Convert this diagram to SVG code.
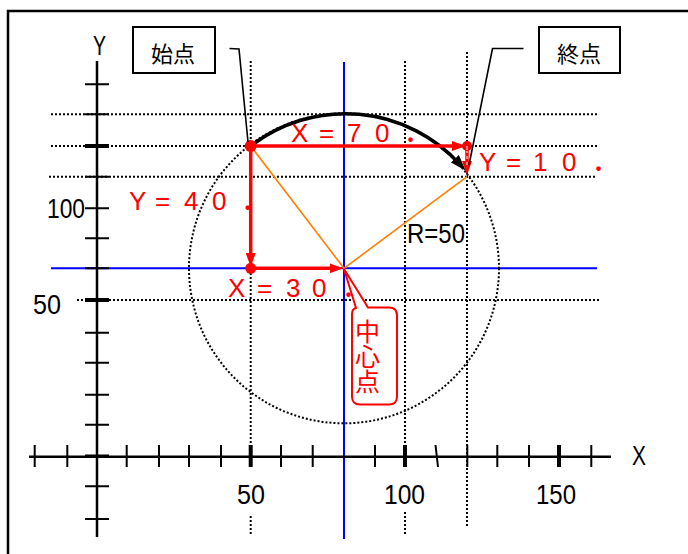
<svg xmlns="http://www.w3.org/2000/svg" width="688" height="554" viewBox="0 0 688 554">
<defs>
<style>
.frame{fill:none;stroke:#000;stroke-width:2.5}
.axis{fill:none;stroke:#000;stroke-width:2.5}
.tick{fill:none;stroke:#000;stroke-width:2}
.tickb{fill:none;stroke:#000;stroke-width:4}
.dot{fill:none;stroke:#000;stroke-width:2;stroke-dasharray:2 2}
.blue{fill:none;stroke:#0000ff;stroke-width:2}
.orange{fill:none;stroke:#ff7f00;stroke-width:1.6}
.red{fill:none;stroke:#ff0000;stroke-width:3.5}
.lead{fill:none;stroke:#000;stroke-width:1.6}
.box{fill:#fff;stroke:#000;stroke-width:2}
.num{font-family:"Liberation Sans",Arial,sans-serif;font-size:27px;fill:#000}
.rtxt{font-family:"Liberation Sans",Arial,sans-serif;font-size:26px;fill:#ff0000}
.pd{font-family:Lato,"Liberation Sans",sans-serif;font-size:30px;font-weight:bold}
.jp{font-family:"Noto Sans CJK JP","Noto Sans",sans-serif;font-size:22px;fill:#000;text-anchor:middle}
.jpr{font-family:"Noto Sans CJK JP","Noto Sans",sans-serif;font-size:25px;fill:#ff0000}
</style>
<marker id="ahr" viewBox="0 0 14 10" refX="6" refY="5" markerWidth="14" markerHeight="10" markerUnits="userSpaceOnUse" orient="auto"><path d="M0,0 L14,5 L0,10 z" fill="#ff0000"/></marker>
<marker id="ahk" viewBox="0 0 16 11" refX="8" refY="5.5" markerWidth="16" markerHeight="11" markerUnits="userSpaceOnUse" orient="auto"><path d="M0,0 L16,5.5 L0,11 z" fill="#000"/></marker>
</defs>
<rect width="688" height="554" fill="#fff"/>
<path class="frame" d="M8,556 V11 H690"/>

<g id="grid">
<path class="dot" d="M51,114.3 H597 M51,146 H597 M49,176.7 H597 M77,300 H599"/>
<path class="dot" d="M250.7,61 V456 M250.7,516 V534 M405,61 V456 M405,512 V534 M467,52 V527"/>
<path class="blue" d="M344,62 V539 M51,268.3 H597"/>
<circle class="dot" cx="344" cy="268.3" r="155" stroke-dasharray="2 2.5"/>
</g>

<g id="axes">
<path class="axis" d="M97,61 V537 M29,456.7 H611"/>
<path class="tick" d="M85,84.3 H109 M85,114.3 H109 M85,176.7 H109 M85,208.3 H109 M85,238.3 H109 M85,268.3 H109 M85,332.7 H109 M85,362.7 H109 M85,394.7 H109 M85,424.7 H109 M85,455.5 H109 M85,486.3 H109 M85,519 H109"/>
<path class="tickb" d="M85,146 H109 M85,300 H109 M250.7,445 V467 M405,445 V467 M559,445 V467"/>
<path class="tick" d="M34.7,445 V467 M67.3,445 V467 M126.7,445 V467 M159,445 V467 M189,445 V467 M221,445 V467 M281,445 V467 M312.7,445 V467 M375,445 V467 M435.5,445 L438,467 M467.3,445 V467 M497.3,445 V467 M529,445 V467 M591.3,445 V467"/>
<text class="num" x="93" y="55" font-size="31" textLength="13" lengthAdjust="spacingAndGlyphs">Y</text>
<text class="num" x="632" y="465" font-size="31" textLength="14" lengthAdjust="spacingAndGlyphs">X</text>
<text class="num" x="47" y="218" textLength="38" lengthAdjust="spacingAndGlyphs">100</text>
<text class="num" x="33" y="314" textLength="28" lengthAdjust="spacingAndGlyphs">50</text>
<text class="num" x="237" y="504" textLength="28" lengthAdjust="spacingAndGlyphs">50</text>
<text class="num" x="384" y="504" textLength="41" lengthAdjust="spacingAndGlyphs">100</text>
<text class="num" x="536" y="504" textLength="40" lengthAdjust="spacingAndGlyphs">150</text>
</g>

<g id="connectors">
<path class="orange" d="M250.7,146 L344,268.3 L467,176.7"/>
<path d="M250.7,146 A155,155 0 0 1 460.2,164.6" fill="none" stroke="#000" stroke-width="3.5" marker-end="url(#ahk)"/>
<path class="red" d="M250.7,146 H458" marker-end="url(#ahr)"/>
<path class="red" d="M250.7,146 V259" marker-end="url(#ahr)"/>
<path class="red" d="M250.7,268.3 H335.5" marker-end="url(#ahr)"/>
<path class="red" d="M467,150 V167" stroke-width="3.5" marker-end="url(#ahr)"/>
<path d="M467,150 V168" fill="none" stroke="#fff" stroke-width="1" stroke-dasharray="3 3"/>
<circle cx="250.7" cy="146" r="6" fill="#ff0000"/>
<circle cx="250.7" cy="268.3" r="5.5" fill="#ff0000"/>
<circle cx="467" cy="146" r="5" fill="#ff0000"/>
<path d="M467,146 V150" stroke="#fff" stroke-width="1"/>
<polyline class="lead" points="229.5,48.5 239,49 248,142"/>
<polyline class="lead" points="523.5,48.5 492.5,48.5 469,165"/>
</g>

<g id="start-node">
<rect class="box" x="133" y="27" width="82" height="46"/>
<text class="jp" x="173" y="61.5">始点</text>
</g>

<g id="end-node">
<rect class="box" x="539" y="27" width="81" height="46"/>
<text class="jp" x="579" y="61.5">終点</text>
</g>

<g id="center-node">
<path d="M356,308 L344,269 L368,307.5 L389,307.5 Q397,307.5 397,315.5 L397,396.5 Q397,404.5 389,404.5 L360,404.5 Q352,404.5 352,396.5 L352,314 Q352,309 356,308 Z" fill="#fff" stroke="#ff0000" stroke-width="2"/>
<text class="jpr" x="367.5" y="319" writing-mode="tb">中心点</text>
</g>

<g id="labels">
<text class="rtxt" x="291 309 319 335 347 366 375 392 407" y="141.5">X = 7 0 <tspan class="pd">.</tspan></text>
<text class="rtxt" x="479 497 506 523 533 552 562 580 595" y="171">Y = 1 0 <tspan class="pd">.</tspan></text>
<text class="rtxt" x="129 147 155 172 184 201 212 229 244.3" y="210">Y = 4 0 <tspan class="pd">.</tspan></text>
<text class="rtxt" x="228 246 257 274 286 303 312 330 345" y="296.5">X = 3 0 <tspan class="pd">.</tspan></text>
<text class="num" x="407" y="243" font-size="25" textLength="58" lengthAdjust="spacingAndGlyphs">R=50</text>
</g>
</svg>
